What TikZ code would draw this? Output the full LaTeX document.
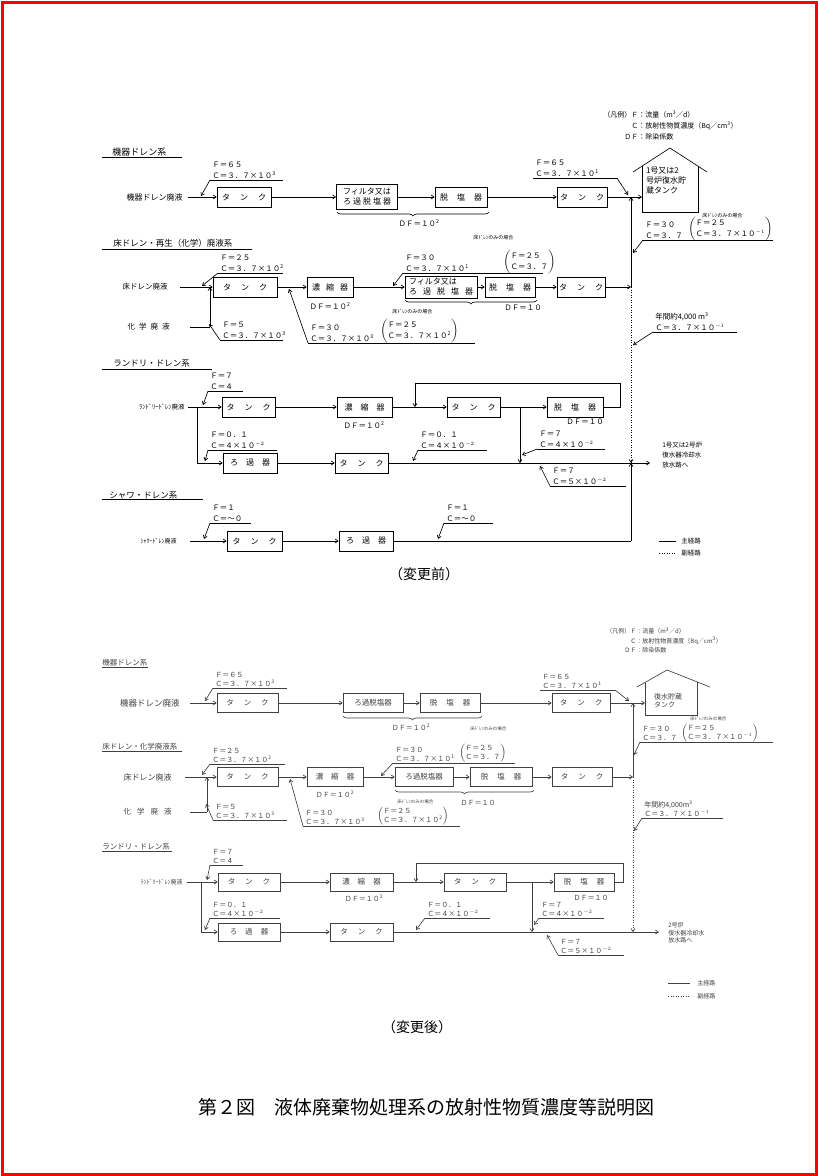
\documentclass[tikz,border=0pt]{standalone}
\usepackage{fontspec}
\setmainfont{Noto Sans CJK JP}
\usetikzlibrary{positioning,arrows.meta,decorations.pathreplacing}

\newcommand{\fsz}[2]{\fontsize{#1}{#2}\selectfont}
\newcommand{\sy}[1]{\textsuperscript{#1}}
\newcommand{\tnk}{タ\hspace{10pt}ン\hspace{10pt}ク}
\newcommand{\dsl}{脱\hspace{9pt}塩\hspace{9pt}器}
\newcommand{\rkk}{ろ\hspace{8pt}過\hspace{8pt}器}
\newcommand{\flowtag}[6][lbl]{%
  \coordinate (#2-l) at (#3,#5);
  \coordinate (#2-r) at (#4,#5);
  \draw (#2-l) -- (#2-r);
  \node[#1] (#2) at ([xshift=2pt,yshift=1.5pt]#2-l) {#6};}
\newcommand{\paren}[2]{$\left(\begin{tabular}{@{}l@{}}#1\\#2\end{tabular}\right)$}

\begin{document}
\begin{tikzpicture}[x=1pt, y=-1pt, line width=0.65pt,
  every node/.style={inner sep=0pt, font=\fsz{7.5}{9}},
  tbox/.style={draw, minimum height=20pt, inner sep=1pt, font=\fsz{8}{10}},
  tboxb/.style={tbox, minimum height=19pt, font=\fsz{7.5}{9}},
  lbl/.style={anchor=south west, align=left, font=\fsz{7.5}{11}},
  lblb/.style={anchor=south west, align=left, font=\fsz{7}{9}},
  note/.style={anchor=west, font=\fsz{5}{6}},
  head/.style={anchor=west, font=\fsz{8.5}{10}},
  src/.style={anchor=east, font=\fsz{7.5}{9}},
  arr/.style={-{Straight Barb[length=3pt,width=4pt]}},
  sub/.style={dash pattern=on 1pt off 1.5pt}]

\useasboundingbox (0,0) rectangle (818,1176);
\draw[red, line width=3pt] (2,2) rectangle (816,1174);

%% ---------------- before the change ----------------
\node[anchor=north west, font=\fsz{7}{11}] (lgA) at (603,109) {\begin{tabular}{@{}r@{：}l@{}}（凡例）Ｆ&流量（m\sy{3}／d）\\Ｃ&放射性物質濃度（Bq／cm\sy{3}）\\ＤＦ&除染係数\end{tabular}};

% equipment drain
\node[head, font=\fsz{9}{10}] (hA) at (112,152) {機器ドレン系};
\draw (102,157) -- (182,157);
\node[src, font=\fsz{8}{9}] (sA) at (183,197) {機器ドレン廃液};
\node[tbox, minimum width=54pt] (tA1) at (244,197) {\tnk};
\node[tbox, minimum width=61pt, minimum height=25pt, align=left] (fA) at (367,197) {フィルタ又は\\ろ\hspace{2pt}過\hspace{2pt}脱\hspace{2pt}塩\hspace{2pt}器};
\node[tbox, minimum width=52pt] (dA) at (461,197) {\dsl};
\node[tbox, minimum width=50pt] (tA2) at (582,197) {\tnk};
\coordinate (jA) at (631,197);
\node[align=left, font=\fsz{8}{10}] (hsA) at (666,181) {1号又は2\\号炉復水貯\\蔵タンク};
\draw (633,172) -- (670,148) -- (707,172);
\draw (642,166) -- (642,212) -- (698,212) -- (698,166);
\draw[arr] ([xshift=5pt]sA.east) -- (tA1);
\draw[arr] (tA1) -- (fA);
\draw[arr] (fA) -- (dA);
\draw[arr] (dA) -- (tA2);
\draw (tA2) -- (jA);
\draw[arr] (jA) -- (642,197);
\draw[decorate, decoration={brace, mirror, amplitude=4pt}] (337,212) -- (489,212);
\node (dfA) at (419,223) {ＤＦ＝１０\sy{2}};
\flowtag{lA1}{210}{283}{180}{Ｆ＝６５\\Ｃ＝３．７×１０\sy{3}}
\draw[arr] (lA1-l) -- (201,196);
\flowtag{lA2}{533}{617}{178}{Ｆ＝６５\\Ｃ＝３．７×１０\sy{1}}
\draw[arr] (lA2-r) -- (628,195);
\node[note] (nA3) at (702,216) {床ﾄﾞﾚﾝのみの場合};
\flowtag{lA3}{643}{773}{240}{Ｆ＝３０\\Ｃ＝３．７}
\node[anchor=west, font=\fsz{7.5}{11}] (pA3) at (688,229) {\paren{Ｆ＝２５}{Ｃ＝３．７×１０\sy{$-1$}}};
\draw[arr] (lA3-l) -- (633,253);

% floor drain / regeneration
\node[head] (hB) at (113,243) {床ドレン・再生（化学）廃液系};
\draw (102,249) -- (252,249);
\node[src] (sB1) at (168,287) {床ドレン廃液};
\node[src] (sB2) at (170,327) {化\hspace{4pt}学\hspace{4pt}廃\hspace{4pt}液};
\node[tbox, minimum width=64pt] (tB1) at (245,287) {\tnk};
\node[tbox, minimum width=46pt] (cB) at (330,287) {濃\hspace{6pt}縮\hspace{6pt}器};
\node (dfB1) at (330,306) {ＤＦ＝１０\sy{2}};
\node[tbox, minimum width=72pt, minimum height=22pt, align=left] (fB) at (441,287) {フィルタ又は\\ろ\hspace{6pt}過\hspace{6pt}脱\hspace{6pt}塩\hspace{6pt}器};
\node[tbox, minimum width=50pt] (dB) at (510,287) {\dsl};
\node[tbox, minimum width=48pt] (tB2) at (581,287) {\tnk};
\coordinate (kB) at (210,327);
\coordinate (vB) at (631,287);
\draw[arr] ([xshift=12pt]sB1.east) -- (tB1);
\draw ([xshift=20pt]sB2.east) -- (kB);
\draw[arr] (kB) -- (kB |- tB1);
\draw[arr] (tB1) -- (cB);
\draw[arr] (cB) -- (fB);
\draw[arr] (fB) -- (dB);
\draw[arr] (dB) -- (tB2);
\draw[arr] (tB2) -- (vB);
\draw[decorate, decoration={brace, mirror, amplitude=4pt}] (405,300) -- (537,300);
\node (dfB2) at (523,308) {ＤＦ＝１０};
\flowtag{lB1}{218}{283}{273}{Ｆ＝２５\\Ｃ＝３．７×１０\sy{2}}
\draw[arr] (lB1-l) -- (202,286);
\flowtag{lB2}{220}{283}{340}{Ｆ＝５\\Ｃ＝３．７×１０\sy{3}}
\draw[arr] (lB2-l) -- (209,324);
\flowtag{lB3}{308}{475}{343}{Ｆ＝３０\\Ｃ＝３．７×１０\sy{3}}
\node[note] (nB3) at (392,312) {床ﾄﾞﾚﾝのみの場合};
\node[anchor=west, font=\fsz{7.5}{11}] (pB3) at (380,331) {\paren{Ｆ＝２５}{Ｃ＝３．７×１０\sy{2}}};
\draw[arr] (lB3-l) -- (289,289);
\flowtag{lB5}{403}{543}{273}{Ｆ＝３０\\Ｃ＝３．７×１０\sy{1}}
\node[note] (nB5) at (473,238) {床ﾄﾞﾚﾝのみの場合};
\node[anchor=west, font=\fsz{7.5}{11}] (pB5) at (503,262) {\paren{Ｆ＝２５}{Ｃ＝３．７}};
\draw[arr] (lB5-l) -- (393,286);
\flowtag{lB4}{653}{737}{332}{年間約4,000 m\sy{3}\\Ｃ＝３．７×１０\sy{$-1$}}
\draw[arr] (lB4-l) -- (633,345);

% laundry drain
\node[head] (hC) at (113,363) {ランドリ・ドレン系};
\draw (102,369) -- (212,369);
\node[src, font=\fsz{6.5}{8}] (sC) at (185,407) {ﾗﾝﾄﾞﾘｰﾄﾞﾚﾝ廃液};
\node[tbox, minimum width=53pt] (tC1) at (248.5,407) {\tnk};
\node[tbox, minimum width=55pt] (cC) at (364.5,407) {濃\hspace{8pt}縮\hspace{8pt}器};
\node (dfC1) at (364,425) {ＤＦ＝１０\sy{2}};
\node[tbox, minimum width=53pt] (tC2) at (473.5,407) {\tnk};
\node[tbox, minimum width=56pt] (dC) at (575,407) {\dsl};
\node (dfC2) at (585,422) {ＤＦ＝１０};
\node[tbox, minimum width=54pt] (rC) at (250,463) {\rkk};
\node[tbox, minimum width=53pt] (tC3) at (361.5,463) {\tnk};
\coordinate (bC) at (197,407);
\coordinate (lpC) at (415,407);
\coordinate (jC) at (520,407);
\coordinate (vC) at (631,463);
\coordinate (oC) at (650,463);
\draw ([xshift=3pt]sC.east) -- (bC);
\draw[arr] (bC) -- (tC1);
\draw[arr] (bC) |- (rC);
\draw[arr] (tC1) -- (cC);
\draw[arr] (cC) -- (tC2);
\draw[arr] (tC2) -- (dC);
\draw[arr] (dC.east) -- ++(17,0) -- ++(0,-24) -| (lpC);
\draw[arr] (jC) -- (jC |- tC3);
\draw[arr] (rC) -- (tC3);
\draw[arr] (tC3) -- (oC);
\draw[sub, arr] (vB) -- (vC);
\node[anchor=west, align=left, font=\fsz{6.5}{10}] (oCt) at (662,455) {1号又は2号炉\\復水器冷却水\\放水路へ};
\flowtag{lC1}{208}{243}{391}{Ｆ＝７\\Ｃ＝４}
\draw[arr] (lC1-l) -- (203,405);
\flowtag{lC2}{208}{277}{450}{Ｆ＝０．１\\Ｃ＝４×１０\sy{$-2$}}
\draw[arr] (lC2-l) -- (205,461);
\flowtag{lC3}{418}{487}{450}{Ｆ＝０．１\\Ｃ＝４×１０\sy{$-2$}}
\draw[arr] (lC3-l) -- (413,461);
\flowtag{lC4}{537}{605}{449}{Ｆ＝７\\Ｃ＝４×１０\sy{$-2$}}
\draw[arr] (lC4-l) -- (522,455);
\flowtag{lC5}{550}{626}{486}{Ｆ＝７\\Ｃ＝５×１０\sy{$-2$}}
\draw[arr] (lC5-l) -- (540,466);

% shower drain
\node[head] (hD) at (109,495) {シャワ・ドレン系};
\draw (102,499) -- (203,499);
\node[src, font=\fsz{6}{8}] (sD) at (177,541) {ｼｬﾜｰﾄﾞﾚﾝ廃液};
\node[tbox, minimum width=55pt] (tD1) at (254.5,541) {\tnk};
\node[tbox, minimum width=54pt] (rD) at (366,541) {\rkk};
\coordinate (vD) at (631,541);
\draw[arr] ([xshift=13pt]sD.east) -- (tD1);
\draw[arr] (tD1) -- (rD);
\draw (rD) -- (vD);
\draw[arr] (vD) -- (vC);
\flowtag{lD1}{210}{251}{523}{Ｆ＝１\\Ｃ＝～０}
\draw[arr] (lD1-l) -- (204,539);
\flowtag{lD2}{444}{493}{523}{Ｆ＝１\\Ｃ＝～０}
\draw[arr] (lD2-l) -- (438,539);
\draw[arr] (vB) -- (jA);

% legend and caption
\draw (659,541) -- (676,541);
\node[anchor=west, font=\fsz{6.5}{8}] (mA) at (681,541) {主経路};
\draw[sub] (659,553) -- (676,553);
\node[anchor=west, font=\fsz{6.5}{8}] (mB) at (681,553) {副経路};
\node[font=\fsz{14}{16}] (capA) at (424,574) {（変更前）};

%% ---------------- after the change ----------------
\begin{scope}[color=black!75]
\node[anchor=north west, font=\fsz{6}{9.5}] (lgB) at (606,627) {\begin{tabular}{@{}r@{：}l@{}}（凡例）Ｆ&流量（m\sy{3}／d）\\Ｃ&放射性物質濃度（Bq／cm\sy{3}）\\ＤＦ&除染係数\end{tabular}};

% equipment drain
\node[head, font=\fsz{7.5}{9}] (hAb) at (102,663) {機器ドレン系};
\draw (102,667.5) -- (148,667.5);
\node[src, font=\fsz{8.5}{9}] (sAb) at (180,703) {機器ドレン廃液};
\node[tboxb, minimum width=61pt] (tA1b) at (247.5,703) {\tnk};
\node[tboxb, minimum width=60pt] (fAb) at (373,703) {ろ過脱塩器};
\node[tboxb, minimum width=60pt] (dAb) at (450,703) {\dsl};
\node[tboxb, minimum width=58pt] (tA2b) at (581,703) {\tnk};
\coordinate (jAb) at (633,703);
\node[align=left, font=\fsz{7}{8}] (hsAb) at (668,701) {復水貯蔵\\タンク};
\draw (637,687) -- (667,670) -- (710,687);
\draw (645,682.5) -- (645,715) -- (697,715) -- (697,682);
\draw[arr] ([xshift=10pt]sAb.east) -- (tA1b);
\draw[arr] (tA1b) -- (fAb);
\draw[arr] (fAb) -- (dAb);
\draw[arr] (dAb) -- (tA2b);
\draw (tA2b) -- (jAb);
\draw[arr] (jAb) -- (645,703);
\draw[decorate, decoration={brace, mirror, amplitude=4pt}] (343,716) -- (482,716);
\node[font=\fsz{7}{9}] (dfAb) at (411,727) {ＤＦ＝１０\sy{2}};
\flowtag[lblb]{lA1b}{213}{287}{688}{Ｆ＝６５\\Ｃ＝３．７×１０\sy{3}}
\draw[arr] (lA1b-l) -- (205,701);
\flowtag[lblb]{lA2b}{540}{615}{690}{Ｆ＝６５\\Ｃ＝３．７×１０\sy{1}}
\draw[arr] (lA2b-r) -- (629,701);
\node[note, font=\fsz{4.5}{5}] (nA3b) at (690,719) {床ﾄﾞﾚﾝのみの場合};
\flowtag[lblb]{lA3b}{640}{773}{742}{Ｆ＝３０\\Ｃ＝３．７}
\node[anchor=west, font=\fsz{7}{9}] (pA3b) at (681,733) {\paren{Ｆ＝２５}{Ｃ＝３．７×１０\sy{$-1$}}};
\draw[arr] (lA3b-l) -- (634,755);

% floor drain / chemical
\node[head, font=\fsz{7.5}{9}] (hBb) at (102,747) {床ドレン・化学廃液系};
\draw (102,751) -- (182,751);
\node[src, font=\fsz{8}{9}] (sB1b) at (172,777) {床ドレン廃液};
\node[src] (sB2b) at (172,812) {化\hspace{6pt}学\hspace{6pt}廃\hspace{6pt}液};
\node[tboxb, minimum width=61pt] (tB1b) at (247.5,777) {\tnk};
\node[tboxb, minimum width=56pt] (cBb) at (335,777) {濃\hspace{8pt}縮\hspace{8pt}器};
\node[font=\fsz{7}{9}] (dfB1b) at (335,794) {ＤＦ＝１０\sy{2}};
\node[tboxb, minimum width=58pt] (fBb) at (424,777) {ろ過脱塩器};
\node[tboxb, minimum width=62pt] (dBb) at (501,777) {\dsl};
\node[tboxb, minimum width=60pt] (tB2b) at (582,777) {\tnk};
\coordinate (kBb) at (207,812);
\coordinate (vBb) at (633,777);
\draw[arr] ([xshift=13pt]sB1b.east) -- (tB1b);
\draw ([xshift=18pt]sB2b.east) -- (kBb);
\draw[arr] (kBb) -- (kBb |- tB1b);
\draw[arr] (tB1b) -- (cBb);
\draw[arr] (cBb) -- (fBb);
\draw[arr] (fBb) -- (dBb);
\draw[arr] (dBb) -- (tB2b);
\draw[arr] (tB2b) -- (vBb);
\draw[arr] (vBb) -- (jAb);
\draw[decorate, decoration={brace, mirror, amplitude=4pt}] (395,790) -- (534,790);
\node[font=\fsz{7}{9}] (dfB2b) at (478,803) {ＤＦ＝１０};
\flowtag[lblb]{lB1b}{210}{285}{764}{Ｆ＝２５\\Ｃ＝３．７×１０\sy{2}}
\draw[arr] (lB1b-l) -- (202,775);
\flowtag[lblb]{lB2b}{213}{287}{820}{Ｆ＝５\\Ｃ＝３．７×１０\sy{3}}
\draw[arr] (lB2b-l) -- (206,804);
\flowtag[lblb]{lB3b}{303}{460}{826}{Ｆ＝３０\\Ｃ＝３．７×１０\sy{3}}
\node[note, font=\fsz{4.5}{5}] (nB3b) at (397,802) {床ﾄﾞﾚﾝのみの場合};
\node[anchor=west, font=\fsz{7}{9}] (pB3b) at (377,816) {\paren{Ｆ＝２５}{Ｃ＝３．７×１０\sy{2}}};
\draw[arr] (lB3b-l) -- (290,779);
\flowtag[lblb]{lB5b}{393}{515}{763}{Ｆ＝３０\\Ｃ＝３．７×１０\sy{1}}
\node[note, font=\fsz{4.5}{5}] (nB5b) at (470,729) {床ﾄﾞﾚﾝのみの場合};
\node[anchor=west, font=\fsz{7}{9}] (pB5b) at (459,753) {\paren{Ｆ＝２５}{Ｃ＝３．７}};
\draw[arr] (lB5b-l) -- (381,776);
\flowtag[lblb]{lB4b}{642}{723}{818}{年間約4,000m\sy{3}\\Ｃ＝３．７×１０\sy{$-1$}}
\draw[arr] (lB4b-l) -- (634,831);

% laundry drain
\node[head, font=\fsz{7.5}{9}] (hCb) at (102,847) {ランドリ・ドレン系};
\draw (102,851) -- (172,851);
\node[src, font=\fsz{6}{8}] (sCb) at (183,882) {ﾗﾝﾄﾞﾘｰﾄﾞﾚﾝ廃液};
\node[tboxb, minimum width=62pt, minimum height=18pt] (tC1b) at (249,882) {\tnk};
\node[tboxb, minimum width=63pt, minimum height=18pt] (cCb) at (361.5,882) {濃\hspace{8pt}縮\hspace{8pt}器};
\node[font=\fsz{7}{9}] (dfC1b) at (364,898) {ＤＦ＝１０\sy{2}};
\node[tboxb, minimum width=62pt, minimum height=18pt] (tC2b) at (475,882) {\tnk};
\node[tboxb, minimum width=60pt, minimum height=18pt] (dCb) at (584,882) {\dsl};
\node[font=\fsz{7}{9}] (dfC2b) at (591,898) {ＤＦ＝１０};
\node[tboxb, minimum width=62pt, minimum height=18pt] (rCb) at (249,932) {\rkk};
\node[tboxb, minimum width=63pt, minimum height=18pt] (tC3b) at (361.5,932) {\tnk};
\coordinate (bCb) at (201,882);
\coordinate (lpCb) at (416,882);
\coordinate (jCb) at (532,882);
\coordinate (vCb) at (633,932);
\coordinate (oCb) at (659,932);
\draw ([xshift=4pt]sCb.east) -- (bCb);
\draw[arr] (bCb) -- (tC1b);
\draw[arr] (bCb) |- (rCb);
\draw[arr] (tC1b) -- (cCb);
\draw[arr] (cCb) -- (tC2b);
\draw[arr] (tC2b) -- (dCb);
\draw[arr] (dCb.east) -- ++(9,0) -- ++(0,-19) -| (lpCb);
\draw[arr] (jCb) -- (jCb |- tC3b);
\draw[arr] (rCb) -- (tC3b);
\draw[arr] (tC3b) -- (oCb);
\draw[sub, arr] (vBb) -- (vCb);
\node[anchor=west, align=left, font=\fsz{6}{7.5}] (oCtb) at (668,933) {2号炉\\復水器冷却水\\放水路へ};
\flowtag[lblb]{lC1b}{210}{243}{865}{Ｆ＝７\\Ｃ＝４}
\draw[arr] (lC1b-l) -- (207,880);
\flowtag[lblb]{lC2b}{210}{280}{918}{Ｆ＝０．１\\Ｃ＝４×１０\sy{$-2$}}
\draw[arr] (lC2b-l) -- (205,930);
\flowtag[lblb]{lC3b}{425}{490}{918}{Ｆ＝０．１\\Ｃ＝４×１０\sy{$-2$}}
\draw[arr] (lC3b-l) -- (416,930);
\flowtag[lblb]{lC4b}{539}{604}{918}{Ｆ＝７\\Ｃ＝４×１０\sy{$-2$}}
\draw[arr] (lC4b-l) -- (534,925);
\flowtag[lblb]{lC5b}{558}{624}{955}{Ｆ＝７\\Ｃ＝５×１０\sy{$-2$}}
\draw[arr] (lC5b-l) -- (547,935);

% legend and caption
\draw (668,983) -- (690,983);
\node[anchor=west, font=\fsz{6}{8}] (mAb) at (697,983) {主経路};
\draw[sub] (668,996) -- (690,996);
\node[anchor=west, font=\fsz{6}{8}] (mBb) at (697,996) {副経路};
\end{scope}
\node[font=\fsz{14}{16}] (capB) at (417,1027) {（変更後）};
\node[font=\fsz{19}{22}] (capC) at (426,1107) {第２図\hspace{1em}液体廃棄物処理系の放射性物質濃度等説明図};
\end{tikzpicture}
\end{document}
